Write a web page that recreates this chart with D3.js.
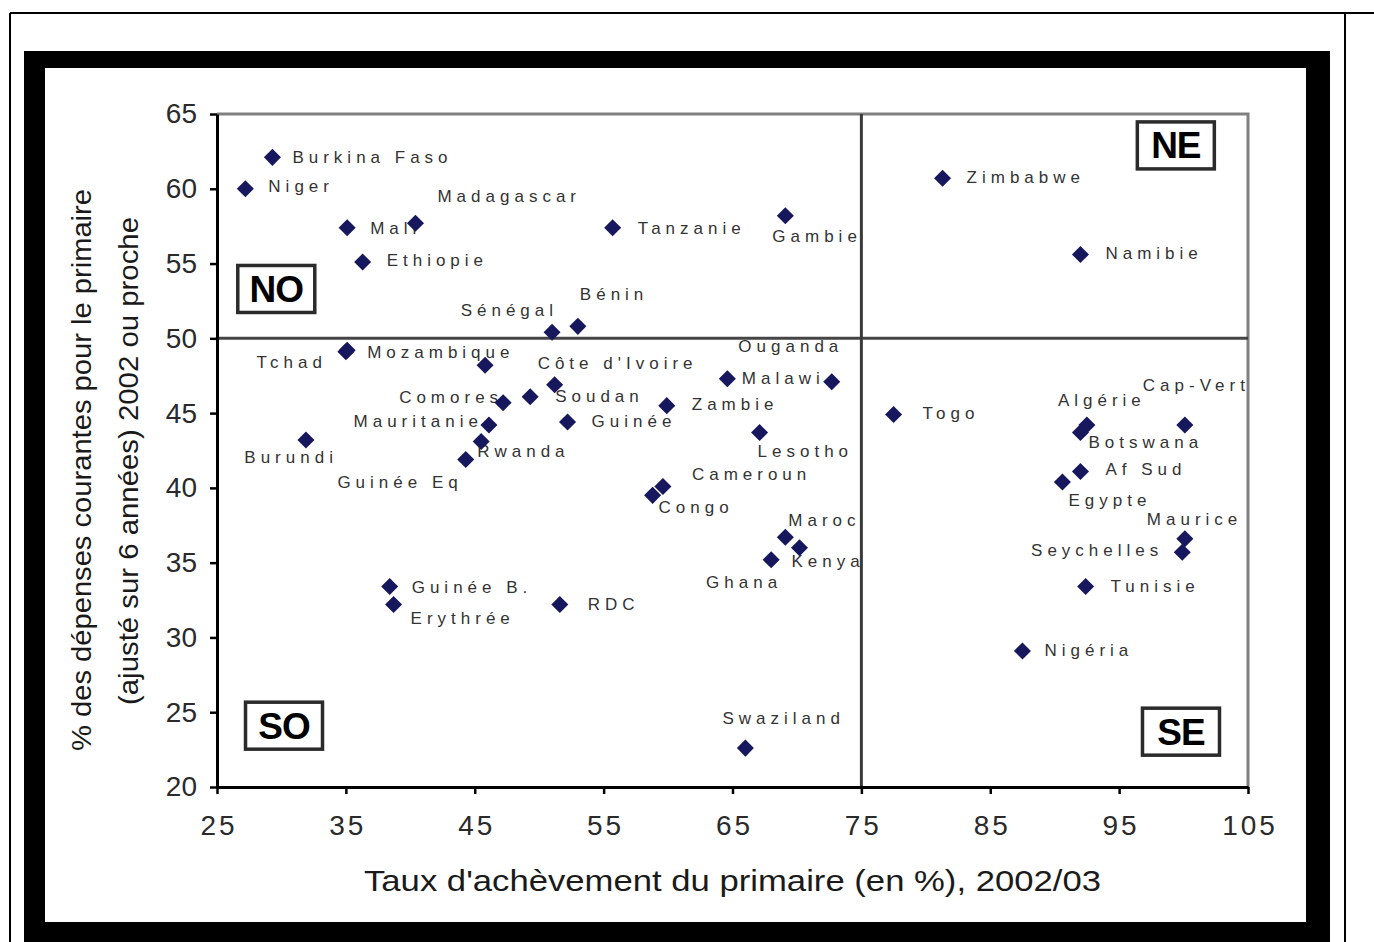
<!DOCTYPE html>
<html>
<head>
<meta charset="utf-8">
<script src="https://cdn.jsdelivr.net/npm/d3@7"></script>
<style>
  html, body { margin: 0; padding: 0; background: #fff; }
  svg { display: block; font-family: "Liberation Sans", Arial, sans-serif; }
</style>
</head>
<body>
<svg id="chart" width="1374" height="942"></svg>
<script>
// ---- Data -------------------------------------------------------------
const countries = ["Burkina Faso","Niger","Mali","Madagascar","Ethiopie","Sénégal","Bénin","Tanzanie","Gambie","Zimbabwe","Namibie","Tchad","Mozambique","","Côte d'Ivoire","Soudan","Comores","Guinée","Mauritanie","Rwanda","Guinée Eq","Burundi","Ouganda","Malawi","Zambie","Lesotho","Cameroun","Congo","Maroc","Kenya","Ghana","RDC","Guinée B.","Erythrée","Swaziland","Togo","Algérie","Botswana","Cap-Vert","Af Sud","Egypte","Maurice","Seychelles","Tunisie","Nigéria"];

// Taux d'achèvement du primaire (%), 2002/03
const completionRate = [29.3,27.2,35.1,40.4,36.3,51.0,53.0,55.7,69.1,81.3,92.0,35.0,35.1,45.8,51.2,49.3,47.2,52.2,46.1,45.5,44.3,31.9,64.6,72.7,59.9,67.1,59.6,58.8,69.1,70.2,68.0,51.6,38.4,38.7,66.0,77.5,92.5,92.0,100.1,92.0,90.6,100.1,99.9,92.4,87.5];

// % des dépenses courantes pour le primaire
const primaryShare = [62.1,60.0,57.4,57.7,55.1,50.4,50.8,57.4,58.2,60.7,55.6,49.1,49.2,48.2,46.9,46.1,45.7,44.4,44.2,43.1,41.9,43.2,47.3,47.1,45.5,43.7,40.1,39.5,36.7,36.0,35.2,32.2,33.4,32.2,22.6,44.9,44.2,43.7,44.2,41.1,40.4,36.6,35.7,33.4,29.1];

const xTicks = [25, 35, 45, 55, 65, 75, 85, 95, 105];
const yTicks = [20, 25, 30, 35, 40, 45, 50, 55, 60, 65];
const xThreshold = 75;
const yThreshold = 50;

const quadrantNames = ["NO", "NE", "SO", "SE"];

// ---- Layout -----------------------------------------------------------
// quadrant tag centres, in axis units
const quadrantAt = { NO: [29.6, 53.3], NE: [99.4, 62.9], SO: [30.2, 24.1], SE: [99.8, 23.7] };

// label placement: [anchor, dx, dy of label centre] relative to the marker
const labelPlacement = {
  "Burkina Faso": ["start", 20, 0], "Niger": ["start", 23, -3], "Mali": ["start", 23, 0],
  "Madagascar": ["start", 22, -27], "Ethiopie": ["start", 24, -2], "Sénégal": ["end", 1, -22],
  "Bénin": ["start", 2, -32], "Tanzanie": ["start", 25, 0], "Gambie": ["start", -13, 20],
  "Zimbabwe": ["start", 24, -1], "Namibie": ["start", 25, -2], "Tchad": ["end", -24, 10],
  "Mozambique": ["start", 20, 2], "Côte d'Ivoire": ["start", -17, -22], "Soudan": ["start", 25, -1],
  "Comores": ["end", -5, -6], "Guinée": ["start", 24, -1], "Mauritanie": ["end", -11, -4],
  "Rwanda": ["start", -4, 9], "Guinée Eq": ["end", -8, 23], "Burundi": ["end", 27, 17],
  "Ouganda": ["start", 11, -33], "Malawi": ["end", -12, -4], "Zambie": ["start", 25, -2],
  "Lesotho": ["start", -2, 18], "Cameroun": ["start", 29, -12], "Congo": ["start", 6, 12],
  "Maroc": ["start", 3, -17], "Kenya": ["start", -8, 13], "Ghana": ["end", 6, 22],
  "RDC": ["start", 28, -1], "Guinée B.": ["start", 22, 0], "Erythrée": ["start", 17, 13],
  "Swaziland": ["start", -23, -30], "Togo": ["start", 29, -2], "Algérie": ["start", -29, -25],
  "Botswana": ["start", 8, 9], "Cap-Vert": ["start", -42, -40], "Af Sud": ["start", 25, -2],
  "Egypte": ["start", 6, 18], "Maurice": ["start", -38, -20], "Seychelles": ["end", -24, -2],
  "Tunisie": ["start", 25, -1], "Nigéria": ["start", 22, -1]
};

const W = 1374, H = 942;
const plot = { left: 217, right: 1248, top: 114, bottom: 787 };

const svg = d3.select("#chart");

// ---- Page frame -------------------------------------------------------
svg.append("rect").attr("width", W).attr("height", H).attr("fill", "#fff");
svg.append("line").attr("x1", 10).attr("x2", W).attr("y1", 13).attr("y2", 13)
  .attr("stroke", "#000").attr("stroke-width", 2);
svg.append("line").attr("x1", 10).attr("x2", 10).attr("y1", 13).attr("y2", H)
  .attr("stroke", "#000").attr("stroke-width", 2);
svg.append("line").attr("x1", 1345).attr("x2", 1345).attr("y1", 13).attr("y2", H)
  .attr("stroke", "#000").attr("stroke-width", 2);

// thick black chart border
svg.append("rect").attr("x", 24).attr("y", 51).attr("width", 1306).attr("height", H - 51 + 10)
  .attr("fill", "#000");
svg.append("rect").attr("x", 45).attr("y", 68).attr("width", 1261).attr("height", 854)
  .attr("fill", "#fff");

// ---- Scales -----------------------------------------------------------
const x = d3.scaleLinear().domain([25, 105]).range([plot.left, plot.right]);
const y = d3.scaleLinear().domain([20, 65]).range([plot.bottom, plot.top]);

// plot area outline (top / right)
svg.append("path")
  .attr("d", `M${x(25)},${y(65)}H${x(105)}V${y(20)}`)
  .attr("fill", "none").attr("stroke", "#808080").attr("stroke-width", 3);

// quadrant dividers
svg.append("line")
  .attr("x1", x(25)).attr("x2", x(105)).attr("y1", y(yThreshold)).attr("y2", y(yThreshold))
  .attr("stroke", "#454545").attr("stroke-width", 3);
svg.append("line")
  .attr("x1", x(xThreshold)).attr("x2", x(xThreshold)).attr("y1", y(65)).attr("y2", y(20))
  .attr("stroke", "#3a3a3a").attr("stroke-width", 3);

// ---- Axes -------------------------------------------------------------
const yAxis = svg.append("g").attr("transform", `translate(${plot.left},0)`)
  .call(d3.axisLeft(y).tickValues(yTicks).tickSize(7).tickSizeOuter(0).tickPadding(13)
        .tickFormat(d3.format("d")));
const xAxis = svg.append("g").attr("transform", `translate(0,${plot.bottom})`)
  .call(d3.axisBottom(x).tickValues(xTicks).tickSize(7).tickSizeOuter(0).tickPadding(21)
        .tickFormat(d3.format("d")));

[xAxis, yAxis].forEach(g => {
  g.select(".domain").attr("stroke", "#000").attr("stroke-width", 3);
  g.selectAll(".tick line").attr("stroke", "#000").attr("stroke-width", 2.5);
  g.selectAll(".tick text").attr("fill", "#2a2a2a")
    .attr("font-family", "'Liberation Sans', Arial, sans-serif").attr("font-size", 28);
});
xAxis.selectAll(".tick text").attr("letter-spacing", 3).attr("dx", 1.5);

// axis titles
svg.append("text")
  .attr("x", (plot.left + plot.right) / 2).attr("y", 891)
  .attr("text-anchor", "middle").attr("font-size", 30).attr("fill", "#1a1a1a")
  .attr("textLength", 737).attr("lengthAdjust", "spacingAndGlyphs")
  .text("Taux d'achèvement du primaire (en %), 2002/03");

svg.append("text")
  .attr("transform", "translate(91,470) rotate(-90)")
  .attr("text-anchor", "middle").attr("font-size", 28).attr("fill", "#1a1a1a")
  .attr("textLength", 562).attr("lengthAdjust", "spacingAndGlyphs")
  .text("% des dépenses courantes pour le primaire");
svg.append("text")
  .attr("transform", "translate(138,461) rotate(-90)")
  .attr("text-anchor", "middle").attr("font-size", 28).attr("fill", "#1a1a1a")
  .attr("textLength", 488).attr("lengthAdjust", "spacingAndGlyphs")
  .text("(ajusté sur 6 années) 2002 ou proche");

// ---- Quadrant tags ----------------------------------------------------
const tagW = 77, tagH = 47;
const tags = svg.append("g").selectAll("g").data(quadrantNames).join("g")
  .attr("transform", d => `translate(${x(quadrantAt[d][0])},${y(quadrantAt[d][1])})`);
tags.append("rect")
  .attr("x", -tagW / 2).attr("y", -tagH / 2).attr("width", tagW).attr("height", tagH)
  .attr("fill", "#fff").attr("stroke", "#2b2b2b").attr("stroke-width", 3.5);
tags.append("text")
  .attr("text-anchor", "middle").attr("y", 13)
  .attr("font-size", 37).attr("font-weight", "bold").attr("fill", "#000")
  .attr("letter-spacing", -1)
  .text(d => d);

// ---- Points -----------------------------------------------------------
const points = countries.map((name, i) => ({ name, cx: completionRate[i], cy: primaryShare[i] }));

const squareDiamond = {
  draw(context, size) {
    const r = Math.sqrt(size / 2);
    context.moveTo(0, -r);
    context.lineTo(r, 0);
    context.lineTo(0, r);
    context.lineTo(-r, 0);
    context.closePath();
  }
};

// labels
const labelG = svg.append("g")
  .attr("font-size", 17).attr("fill", "#333").attr("letter-spacing", 5);
points.filter(p => p.name && labelPlacement[p.name]).forEach(p => {
  const [anchor, dx, dy] = labelPlacement[p.name];
  const t = labelG.append("text").text(p.name).attr("y", y(p.cy) + dy + 6);
  const w = t.node().getComputedTextLength() - 5;
  let left = x(p.cx) + dx;
  if (anchor === "end") left -= w;
  if (anchor === "middle") left -= w / 2;
  t.attr("x", left);
});

svg.append("g").selectAll("path").data(points).join("path")
  .attr("transform", d => `translate(${x(d.cx)},${y(d.cy)})`)
  .attr("d", d3.symbol().type(squareDiamond).size(145))
  .attr("fill", "#17175e");
</script>
</body>
</html>
